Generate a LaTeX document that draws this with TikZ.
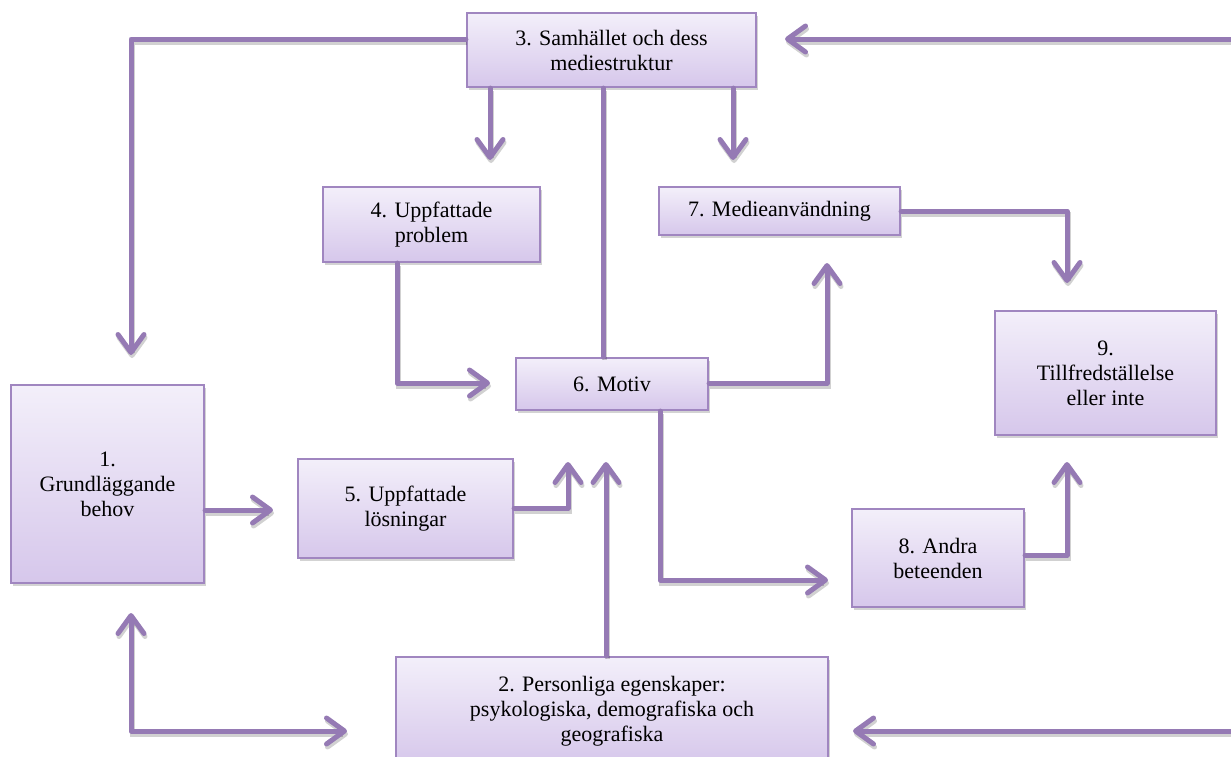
\documentclass[tikz,border=0pt]{standalone}
\usepackage{fontspec}
\setmainfont{Liberation Serif}
\usetikzlibrary{arrows.meta,shadows,calc}
\definecolor{lineC}{RGB}{149,122,180}
\definecolor{boxB}{RGB}{160,134,192}
\definecolor{topF}{RGB}{243,239,250}
\definecolor{botF}{RGB}{214,199,235}
\tikzset{
  box/.style={draw=boxB, line width=2.2pt, rectangle, inner sep=0pt, align=center,
    top color=topF, bottom color=botF,
    drop shadow={opacity=0.35, shadow xshift=1.5pt, shadow yshift=-3pt},
    font=\fontsize{22pt}{25pt}\selectfont},
  conn/.style={draw=lineC, line width=5pt, line cap=round, line join=round,
    preaction={draw=black, opacity=0.18, line width=5pt, transform canvas={xshift=1pt,yshift=-3pt}}},
  arr/.style={conn, -{Straight Barb[length=18pt,width=26pt,round]}},
  darr/.style={conn, {Straight Barb[length=18pt,width=26pt,round]}-{Straight Barb[length=18pt,width=26pt,round]}}
}
\begin{document}
\begin{tikzpicture}[x=1pt,y=-1pt]
\useasboundingbox (0,0) rectangle (1231,756);
\clip (0,0) rectangle (1231,756);
% boxes
\node[box, minimum width=289pt, minimum height=74pt] (b3) at (611.5,50) {3. Samhället och dess\\mediestruktur};
\node[box, minimum width=217pt, minimum height=75pt] (b4) at (431.5,224.5) {4. Uppfattade\\problem};
\node[box, minimum width=241pt, minimum height=48pt] (b7) at (779.5,211) {7. Medieanvändning};
\node[box, minimum width=192pt, minimum height=52pt] (b6) at (612,384) {6. Motiv};
\node[box, minimum width=221pt, minimum height=124pt] (b9) at (1105.5,373) {9.\\Tillfredställelse\\eller inte};
\node[box, minimum width=193pt, minimum height=198pt] (b1) at (107.5,484) {1.\\Grundläggande\\behov};
\node[box, minimum width=215pt, minimum height=99pt] (b5) at (405.5,508.5) {5. Uppfattade\\lösningar};
\node[box, minimum width=172pt, minimum height=98pt] (b8) at (938,558) {8. Andra\\beteenden};
\node[box, minimum width=432pt, minimum height=108pt] (b2) at (612,711) {2. Personliga egenskaper:\\psykologiska, demografiska och\\geografiska};
% free ends
\coordinate (tA) at (131,355);
\coordinate (eR1) at (1240,39);
\coordinate (tB) at (785,39);
\coordinate (tC) at (490,160);
\coordinate (tD) at (733,160);
\coordinate (tF) at (490,383);
\coordinate (tG) at (827,263);
\coordinate (tH) at (1067,283);
\coordinate (tI) at (828,580);
\coordinate (tJ) at (1067,462);
\coordinate (tK) at (273,510);
\coordinate (tL) at (568,462);
\coordinate (tM) at (606,462);
\coordinate (tN1) at (131,613);
\coordinate (tN2) at (347,731);
\coordinate (eR2) at (1240,731);
\coordinate (tO) at (853,731);
% connectors
\draw[arr] (b3.west |- 0,39) -| (tA);
\draw[arr] (eR1) -- (tB);
\draw[arr] (b3.south -| tC) -- (tC);
\draw[arr] (b3.south -| tD) -- (tD);
\draw[conn] (b3.south -| 603,0) -- (b6.north -| 603,0);
\draw[arr] (b4.south -| 397,0) |- (tF);
\draw[arr] (b6.east |- 0,383) -| (tG);
\draw[arr] (b7.east) -| (tH);
\draw[arr] (b6.south -| 660,0) |- (tI);
\draw[arr] (b8.east |- 0,555) -| (tJ);
\draw[arr] (b1.east |- 0,510) -- (tK);
\draw[arr] (b5.east |- 0,508) -| (tL);
\draw[arr] (b2.north -| tM) -- (tM);
\draw[darr] (tN1) |- (tN2);
\draw[arr] (eR2) -- (tO);
\end{tikzpicture}
\end{document}
